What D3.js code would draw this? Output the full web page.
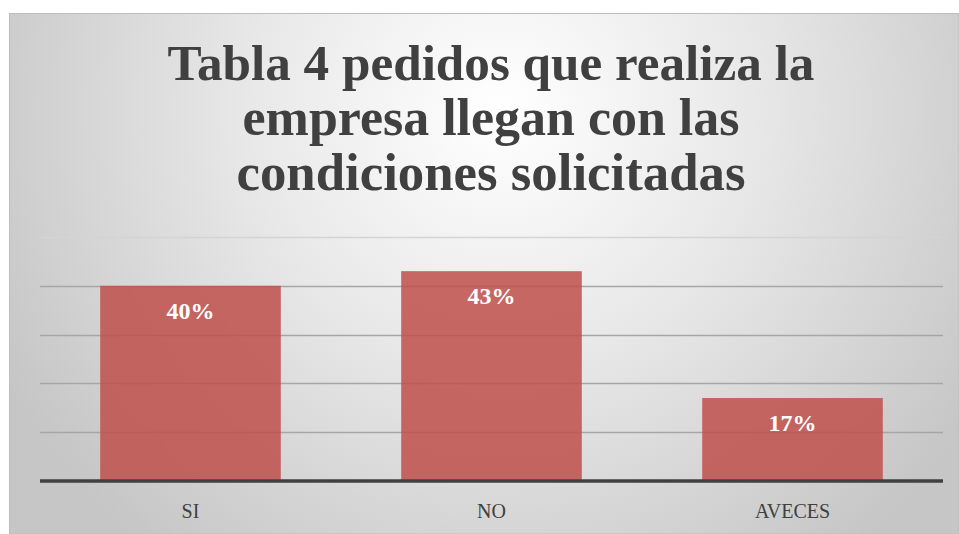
<!DOCTYPE html>
<html>
<head>
<meta charset="utf-8">
<script src="https://cdn.jsdelivr.net/npm/d3@7"></script>
<style>
  html, body { margin: 0; padding: 0; background: #ffffff; }
  svg { display: block; }
</style>
</head>
<body>
<svg id="chart" width="959" height="534"></svg>
<script>
const categories = ["SI", "NO", "AVECES"];
const values = [40, 43, 17];
const valueLabels = ["40%", "43%", "17%"];
const gridTicks = [10, 20, 30, 40, 50];
const titleLines = ["Tabla 4 pedidos que realiza la", "empresa llegan con las", "condiciones solicitadas"];

const svg = d3.select("#chart");
const W = 959, H = 534;

const defs = svg.append("defs");
const grad = defs.append("radialGradient")
  .attr("id", "bg").attr("gradientUnits", "userSpaceOnUse")
  .attr("cx", 500).attr("cy", 110).attr("r", 560)
  .attr("fx", 500).attr("fy", 110);
grad.append("stop").attr("offset", "0%").attr("stop-color", "#ffffff");
grad.append("stop").attr("offset", "45%").attr("stop-color", "#e8e8e8");
grad.append("stop").attr("offset", "100%").attr("stop-color", "#c6c6c6");

// chart area
svg.append("rect").attr("x", 9.5).attr("y", 13.5).attr("width", W - 9.5).attr("height", H - 13.5)
  .attr("fill", "url(#bg)").attr("stroke", "#bdbdbd").attr("stroke-width", 1);

const plot = { left: 40, right: 943, top: 237, bottom: 481 };

const x = d3.scaleBand().domain(categories)
  .range([plot.left, plot.right]).paddingInner(0.4).paddingOuter(0.2);
const y = d3.scaleLinear().domain([0, 50]).range([plot.bottom, plot.top]);

// gridlines
svg.append("g").selectAll("line").data(gridTicks).join("line")
  .attr("x1", plot.left).attr("x2", plot.right)
  .attr("y1", d => Math.round(y(d)) + 0.5).attr("y2", d => Math.round(y(d)) + 0.5)
  .attr("stroke", d => d === 50 ? "#d4d4d4" : "#a6a6a6")
  .attr("stroke-width", 1.5);

// bars
svg.append("g").selectAll("rect").data(values).join("rect")
  .attr("x", (d, i) => x(categories[i]))
  .attr("width", x.bandwidth())
  .attr("y", d => y(d))
  .attr("height", d => y(0) - y(d))
  .attr("fill", "#c0504d")
  .attr("fill-opacity", 0.86);

// value labels
svg.append("g").selectAll("text").data(values).join("text")
  .attr("x", (d, i) => x(categories[i]) + x.bandwidth() / 2)
  .attr("y", d => y(d) + 33)
  .attr("text-anchor", "middle")
  .attr("font-family", "'Liberation Serif', 'DejaVu Serif', serif")
  .attr("font-weight", "bold")
  .attr("font-size", 24)
  .attr("fill", "#ffffff")
  .text((d, i) => valueLabels[i]);

// baseline axis
const xAxis = d3.axisBottom(x).tickSize(0).tickPadding(23);
const gx = svg.append("g").attr("transform", `translate(0,${plot.bottom})`).call(xAxis);
gx.select(".domain").attr("stroke", "#404040").attr("stroke-width", 3.5)
  .attr("d", `M${plot.left},0H${plot.right}`);
gx.selectAll("text")
  .attr("font-family", "'Liberation Serif', 'DejaVu Serif', serif")
  .attr("font-size", 20)
  .attr("fill", "#404040");

// title
const titleWidths = [647, 497, 509];
const baselines = [80, 135, 190];
titleLines.forEach((t, i) => {
  const tx = svg.append("text")
    .attr("x", 491).attr("y", baselines[i])
    .attr("text-anchor", "middle")
    .attr("font-family", "'Liberation Serif', 'DejaVu Serif', serif")
    .attr("font-weight", "bold")
    .attr("font-size", 46)
    .attr("fill", "#404040")
    .text(t);
  const w = tx.node().getComputedTextLength();
  tx.attr("font-size", 46 * titleWidths[i] / w);
});
</script>
</body>
</html>
